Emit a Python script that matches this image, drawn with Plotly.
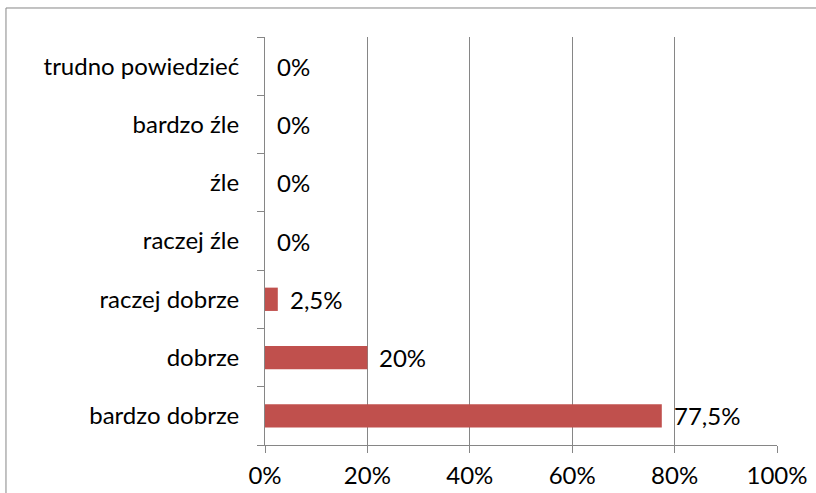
import plotly.graph_objects as go

categories = ["bardzo dobrze", "dobrze", "raczej dobrze", "raczej źle", "źle", "bardzo źle", "trudno powiedzieć"]
values = [77.5, 20, 2.5, 0, 0, 0, 0]
value_labels = ["77,5%", "20%", "2,5%", "0%", "0%", "0%", "0%"]
x_ticks = [0, 20, 40, 60, 80, 100]
x_tick_labels = ["0%", "20%", "40%", "60%", "80%", "100%"]

FONT = "Lato"
FS = 24
GRID = "#868686"

fig = go.Figure()
fig.add_trace(go.Bar(
    y=categories, x=values, orientation="h",
    marker=dict(color="#C0504D", line=dict(width=0)),
    width=0.4, hoverinfo="skip",
))

for c, v, t in zip(categories, values, value_labels):
    fig.add_annotation(x=v, y=c, text=t, showarrow=False, xanchor="left",
                       xshift=10, font=dict(family=FONT, size=FS, color="#000"))

fig.update_layout(
    width=816, height=493,
    margin=dict(l=265, r=39, t=37, b=48),
    plot_bgcolor="white", paper_bgcolor="white",
    showlegend=False,
    font=dict(family=FONT, size=FS, color="#000"),
    bargap=0.6,
    xaxis=dict(range=[0, 100], tickvals=x_ticks, ticktext=x_tick_labels,
               showgrid=True, gridcolor=GRID, gridwidth=1,
               showline=True, linecolor=GRID, linewidth=1,
               ticks="outside", ticklen=7, tickcolor=GRID,
               zeroline=False, fixedrange=True, automargin=False,
               ticklabelstandoff=2,
               tickfont=dict(family=FONT, size=FS, color="#000")),
    yaxis=dict(categoryorder="array", categoryarray=categories,
               showgrid=False, showline=True, linecolor=GRID, linewidth=1,
               ticks="outside", ticklen=7, tickcolor=GRID, tickson="boundaries",
               ticklabelstandoff=20, automargin=False,
               tickfont=dict(family=FONT, size=FS, color="#000"), fixedrange=True),
    shapes=[dict(type="rect", xref="paper", yref="paper",
                 x0=-0.5059, x1=1.3, y0=-0.3, y1=1.0711,
                 line=dict(color="#868686", width=1), fillcolor="rgba(0,0,0,0)",
                 layer="below")],
)

fig.write_html("out.html", config={"displayModeBar": False},
               post_script="document.body.style.margin='0';document.body.style.overflow='hidden';")
